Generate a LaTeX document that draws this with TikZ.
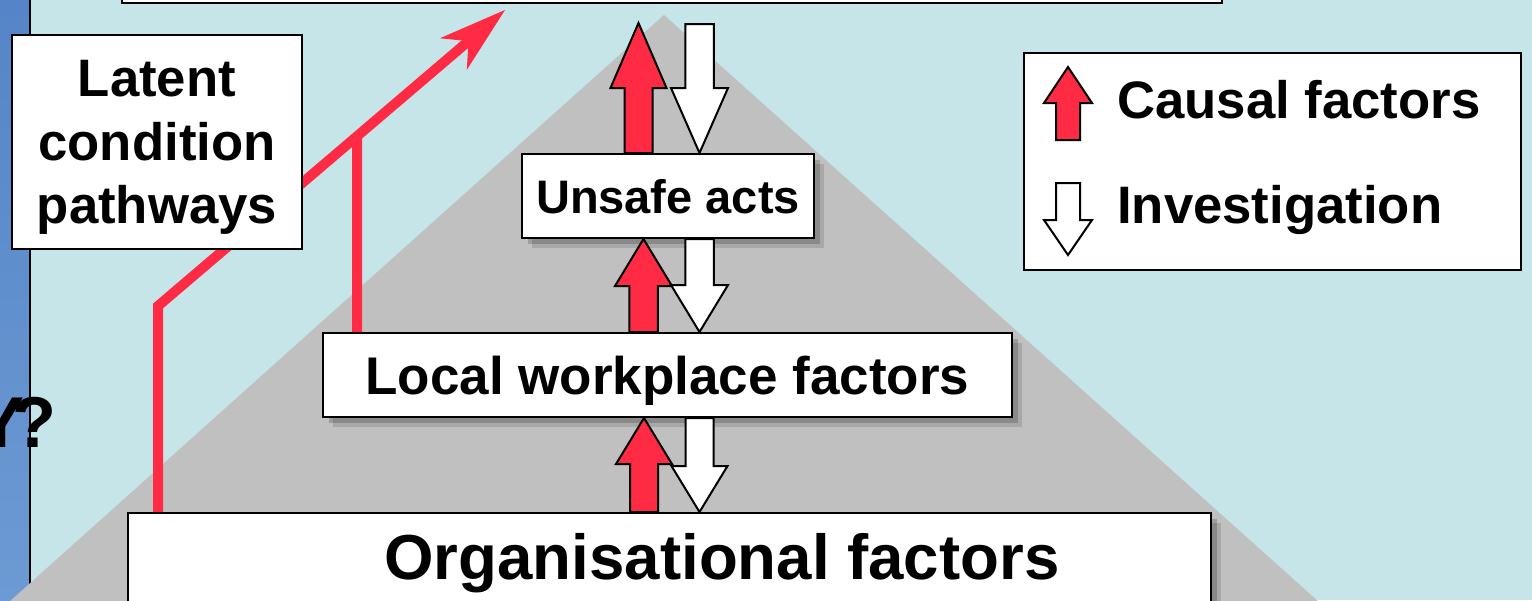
\documentclass[tikz,border=0pt]{standalone}
\usepackage{fontspec}
\setmainfont{Liberation Sans}
\usetikzlibrary{arrows.meta,calc,shadows}

\definecolor{skyback}{HTML}{C5E5E8}
\definecolor{pyramid}{HTML}{C0C0C0}
\definecolor{causalred}{HTML}{FF2A44}
\definecolor{stripdark}{HTML}{5585C8}
\definecolor{striplight}{HTML}{7BB1E2}
\definecolor{stripmid}{HTML}{6C9AD3}

% block arrow: style, tail, tip, head length, head half-width
\newcommand{\blockarrow}[5]{%
  \draw[#1] let \p1=(#2), \p2=(#3), \n1={sign(\y2-\y1)}, \n2={#5/2} in
    (\x2,\y2) -- (\x2+#5pt,\y2-\n1*#4pt) -- (\x2+\n2*1pt,\y2-\n1*#4pt)
    -- (\x2+\n2*1pt,\y1) -- (\x2-\n2*1pt,\y1) -- (\x2-\n2*1pt,\y2-\n1*#4pt)
    -- (\x2-#5pt,\y2-\n1*#4pt) -- cycle;}

\tikzset{
  box/.style={draw=black, fill=white, line width=2pt, inner sep=0pt, text depth=0pt, font=\bfseries},
  softshadow/.style={general shadow={shadow xshift=10pt, shadow yshift=-10pt, fill=black, opacity=.12},
                     general shadow={shadow xshift=6pt, shadow yshift=-6pt, fill=black, opacity=.18}},
  causal/.style={draw=black, fill=causalred, line width=2pt, line join=miter},
  probe/.style={draw=black, fill=white, line width=2pt, line join=miter},
  pathway/.style={draw=causalred, line width=10pt, line join=miter},
}

\begin{document}
\begin{tikzpicture}[x=1pt, y=-1pt]
  \useasboundingbox (0,0) rectangle (1532,600);
  \clip (0,0) rectangle (1532,600);
  % backdrop
  \fill[skyback] (0,0) rectangle (1532,600);
  \shade[top color=stripdark, middle color=striplight, bottom color=stripmid] (0,0) rectangle (30,600);
  \draw[line width=2pt] (30,0) -- (30,600);
  \node[anchor=base east, inner sep=0pt, font=\fontsize{72}{80}\selectfont\bfseries] (why) at (57,447) {Y\kern-12pt?};
  \fill[pyramid] (664,15) -- (-11,620) -- (1339,620) -- cycle;

  % levels
  \node[box, minimum width=1100pt, minimum height=80pt, anchor=south] (accident) at (672,4) {};
  \node[box, softshadow, minimum width=292pt, minimum height=84pt,
        font=\fontsize{47}{56}\selectfont\bfseries] (unsafe) at (668,196) {Unsafe acts};
  \node[box, softshadow, minimum width=689pt, minimum height=84pt,
        font=\fontsize{53}{60}\selectfont\bfseries] (local) at (667.5,375) {Local workplace factors};
  \node[box, softshadow, minimum width=1083pt, minimum height=120pt, anchor=north west] (org) at (127,512) {};
  \node[anchor=base, inner sep=0pt, font=\fontsize{63.6}{70}\selectfont\bfseries] (orgtext) at (722,579) {Organisational factors};

  % latent condition pathways
  \coordinate (bend) at (158,306);
  \coordinate (hit) at (505,10);
  \coordinate (merge) at ($(bend)!0.5735!(hit)$);
  \draw[pathway, shorten >=40pt] (158,0 |- org.north) -- (bend) -- (hit);
  \fill[causalred] (hit) -- ($(hit)!71pt!17:(bend)$) -- ($(hit)!48pt!(bend)$) -- ($(hit)!71pt!-17:(bend)$) -- cycle;
  \draw[pathway] (357,0 |- local.north) -- (merge);

  % causes up, investigation down
  \coordinate (causetop) at (638.5,23);
  \coordinate (probetop) at (699.5,24);
  \blockarrow{causal}{638.5,0 |- unsafe.north}{causetop}{65}{28}
  \blockarrow{probe}{probetop}{699.5,0 |- unsafe.north}{65}{28.5}
  \blockarrow{causal}{643.5,0 |- local.north}{643.5,0 |- unsafe.south}{47}{28.5}
  \blockarrow{probe}{699.5,0 |- unsafe.south}{699.5,0 |- local.north}{47}{28.5}
  \blockarrow{causal}{644,0 |- org.north}{644,0 |- local.south}{46}{28}
  \blockarrow{probe}{699.5,0 |- local.south}{699.5,0 |- org.north}{46}{28}

  \node[box, minimum width=290pt, minimum height=214pt, align=center,
        font=\fontsize{52.7}{63.5}\selectfont\bfseries] (latent) at (157,142) {Latent\\condition\\pathways};

  % legend
  \node[box, minimum width=497pt, minimum height=217pt] (legend) at (1272.5,161.5) {};
  \blockarrow{causal}{1068,140}{1068,67}{36}{24}
  \blockarrow{probe}{1068,183}{1068,255}{35}{24}
  \node[anchor=base west, inner sep=0pt, font=\fontsize{52.7}{60}\selectfont\bfseries] (causaltext) at (1117,118) {Causal factors};
  \node[anchor=base west, inner sep=0pt, font=\fontsize{52.7}{60}\selectfont\bfseries] (probetext) at (1117,223) {Investigation};
\end{tikzpicture}
\end{document}
